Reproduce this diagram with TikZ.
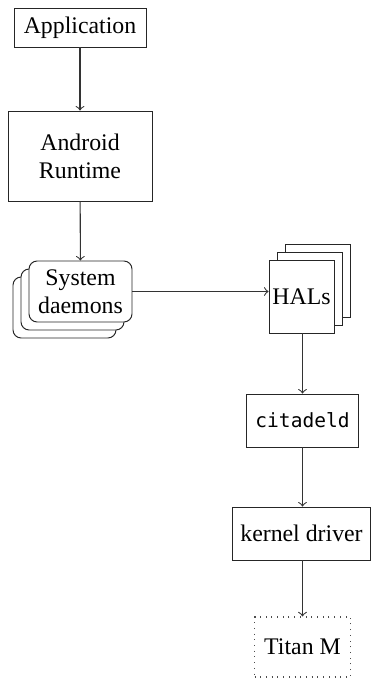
\documentclass[tikz,border=0pt]{standalone}
\usepackage{fontspec}
\setmainfont{Liberation Serif}
\newfontfamily\codefont{DejaVu Sans Mono}
\begin{document}
\begin{tikzpicture}[x=0.42pt,y=-0.42pt,
  box/.style={draw=black!85, fill=white, line width=0.4pt, inner sep=0pt, align=center, font=\fontsize{10}{11.8}\selectfont},
  rbox/.style={box, rounded corners=3.4pt},
  dbox/.style={box, draw=black!70, dotted, line width=0.5pt},
  conn/.style={->, line width=0.45pt, draw=black!80}]
\useasboundingbox (0,0) rectangle (371,679);
\node[box, minimum width=55.44pt, minimum height=16.38pt] (app) at (80,27.5) {Application};
\node[box, minimum width=60.48pt, minimum height=37.8pt] (art) at (80,156) {Android\\Runtime};
\node[rbox, minimum width=43.26pt, minimum height=25.62pt] (d3) at (64.5,307.5) {};
\node[rbox, minimum width=43.26pt, minimum height=25.62pt] (d2) at (72.5,299.5) {};
\node[rbox, minimum width=43.26pt, minimum height=25.62pt] (dae) at (80.5,291.5) {System\\daemons};
\node[box, minimum width=27.3pt, minimum height=30.66pt] (h3) at (317.5,280.5) {};
\node[box, minimum width=27.3pt, minimum height=30.66pt] (h2) at (309.5,288.5) {};
\node[box, minimum width=27.3pt, minimum height=30.66pt] (hal) at (301.5,296.5) {HALs};
\node[box, minimum width=47.04pt, minimum height=22.26pt, font=\codefont\fontsize{8.2}{10}\selectfont] (cit) at (302.5,420.5) {citadeld};
\node[box, minimum width=58.3pt, minimum height=22.26pt] (kd) at (301.5,533.5) {kernel driver};
\node[dbox, minimum width=40.32pt, minimum height=25.2pt] (titan) at (302.5,647) {Titan M};
\draw[conn] (app) -- (art);
\draw[conn] (art) -- (dae);
\draw[conn] (dae.east) -- (dae.east -| hal.west);
\draw[conn] (hal.south -| cit.north) -- (cit.north);
\draw[conn] (cit.south) -- (cit.south |- kd.north);
\draw[conn] (cit.south |- kd.south) -- (cit.south |- titan.north);
\end{tikzpicture}
\end{document}
